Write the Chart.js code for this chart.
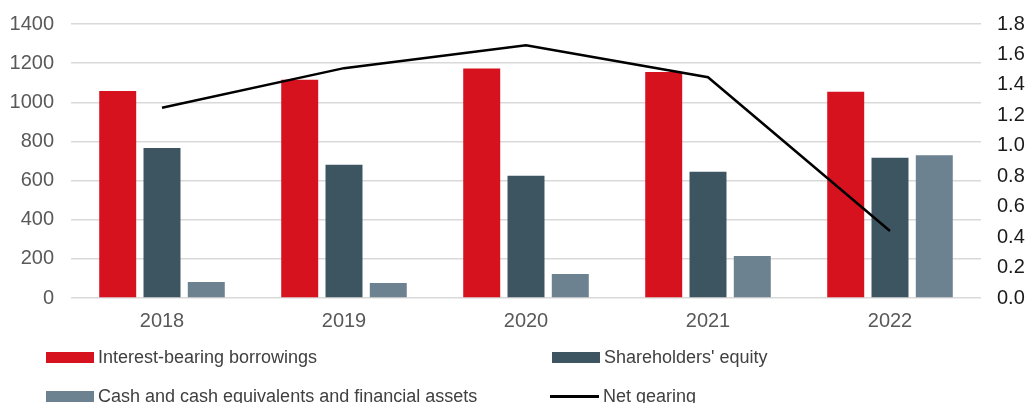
<!DOCTYPE html>
<html>
<head>
<meta charset="utf-8">
<script src="https://cdn.jsdelivr.net/npm/chart.js@4/dist/chart.umd.min.js"></script>
<style>
  html, body { margin: 0; padding: 0; background: #fff; }
  body { width: 1027px; height: 403px; overflow: hidden; position: relative; font-family: "Liberation Sans", Arial, sans-serif; }
  #wrap { position: absolute; left: 0; top: 0; width: 1027px; height: 344px; }
  #legend { position: absolute; left: 0; top: 0; width: 1027px; height: 403px; pointer-events: none; }
  .item { position: absolute; display: flex; align-items: center; height: 22px; font-size: 18px; color: #404040; white-space: nowrap; }
  .swatch { width: 48px; height: 11px; margin-right: 4px; }
  .swatch.line { height: 3px; width: 49px; }
</style>
</head>
<body>
<div id="wrap"><canvas id="chart"></canvas></div>
<div id="legend"></div>
<script>
// данные
const years = ['2018', '2019', '2020', '2021', '2022'];
const borrowings = [1058, 1115, 1172, 1155, 1054];
const equity = [767, 681, 624, 645, 716];
const cashAssets = [82, 77, 123, 215, 730];
const netGearing = [1.25, 1.51, 1.66, 1.45, 0.44];

const leftTicks = [0, 200, 400, 600, 800, 1000, 1200, 1400];
const rightTicks = [0, 0.2, 0.4, 0.6, 0.8, 1.0, 1.2, 1.4, 1.6, 1.8];

const RED = '#d6121f';
const DARK = '#3d5461';
const LIGHT = '#6c8290';

const FONT = '"Liberation Sans", Arial, sans-serif';

const ctx = document.getElementById('chart').getContext('2d');
const chart = new Chart(ctx, {
    type: 'bar',
    data: {
        labels: years,
        datasets: [
            { label: 'Interest-bearing borrowings', data: borrowings, backgroundColor: RED, order: 1, yAxisID: 'y' },
            { label: "Shareholders' equity", data: equity, backgroundColor: DARK, order: 1, yAxisID: 'y' },
            { label: 'Cash and cash equivalents and financial assets', data: cashAssets, backgroundColor: LIGHT, order: 1, yAxisID: 'y' },
            {
                type: 'line', label: 'Net gearing', data: netGearing, yAxisID: 'y1', order: 0,
                borderColor: '#000', borderWidth: 2.5, pointRadius: 0, tension: 0, fill: false
            }
        ]
    },
    options: {
        responsive: true,
        maintainAspectRatio: false,
        animation: false,
        categoryPercentage: 0.73,
        barPercentage: 0.835,
        layout: { padding: { top: 24, bottom: 0, left: 0, right: 0 } },
        plugins: { legend: { display: false }, tooltip: { enabled: false } },
        scales: {
            x: {
                grid: { display: false, drawTicks: false },
                border: { display: false },
                ticks: { color: '#595959', font: { family: FONT, size: 20 }, padding: 11 }
            },
            y: {
                position: 'left',
                min: 0, max: 1400,
                afterFit: (s) => { s.width = 71; s.paddingTop = 0; s.paddingBottom = 0; },
                afterBuildTicks: (s) => { s.ticks = leftTicks.map(v => ({ value: v })); },
                grid: { color: '#d9d9d9', lineWidth: 1.5, drawTicks: false },
                border: { display: false },
                ticks: {
                    color: '#595959', font: { family: FONT, size: 20 }, padding: 17,
                    callback: (v) => String(v)
                }
            },
            y1: {
                position: 'right',
                min: 0, max: 1.8,
                afterFit: (s) => { s.width = 46; s.paddingTop = 0; s.paddingBottom = 0; },
                afterBuildTicks: (s) => { s.ticks = rightTicks.map(v => ({ value: v })); },
                grid: { display: false, drawTicks: false },
                border: { display: false },
                ticks: {
                    color: '#1a1a1a', font: { family: FONT, size: 20 }, padding: 16,
                    callback: (v) => Number(v).toFixed(1)
                }
            }
        }
    }
});

// легенда в две колонки
const legendPos = [
    { left: 46, top: 346 },
    { left: 552, top: 346 },
    { left: 46, top: 385 },
    { left: 550, top: 385 }
];
const legendEl = document.getElementById('legend');
chart.data.datasets.forEach((ds, i) => {
    const item = document.createElement('div');
    item.className = 'item';
    item.style.left = legendPos[i].left + 'px';
    item.style.top = legendPos[i].top + 'px';
    const sw = document.createElement('span');
    sw.className = 'swatch' + (ds.type === 'line' ? ' line' : '');
    sw.style.background = ds.type === 'line' ? ds.borderColor : ds.backgroundColor;
    item.appendChild(sw);
    const txt = document.createElement('span');
    txt.textContent = ds.label;
    item.appendChild(txt);
    legendEl.appendChild(item);
});
</script>
</body>
</html>
